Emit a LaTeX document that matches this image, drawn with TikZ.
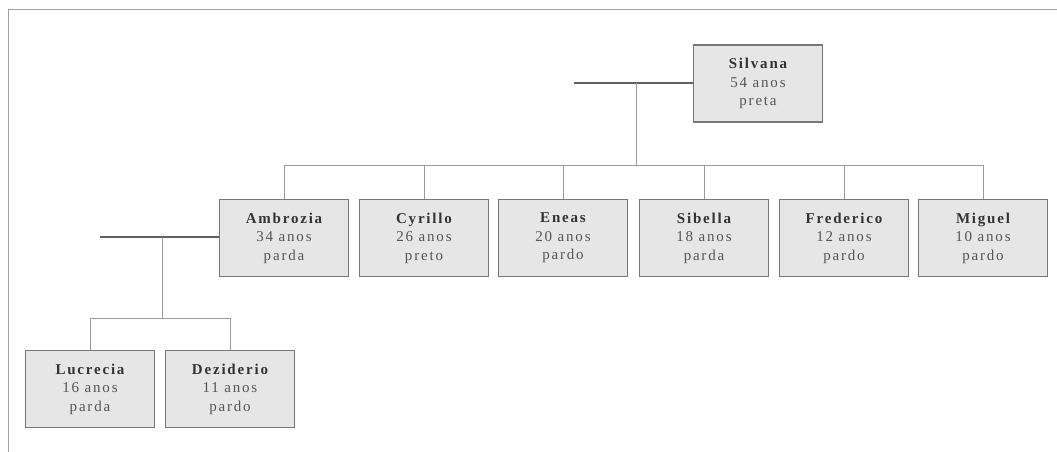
\documentclass[tikz,border=0pt]{standalone}
\usepackage{fontspec}
\setmainfont{Liberation Serif}[LetterSpace=12]
\definecolor{boxfill}{HTML}{E6E6E6}
\definecolor{boxdraw}{HTML}{777777}
\definecolor{linkc}{HTML}{9A9A9A}
\definecolor{spousec}{HTML}{606060}
\definecolor{namec}{HTML}{333333}
\definecolor{infoc}{HTML}{555555}
\definecolor{framec}{HTML}{A0A0A0}
\tikzset{
  person/.style={draw=boxdraw, fill=boxfill, line width=1.7pt, minimum width=129pt, minimum height=77pt,
    inner sep=0pt, align=center, text=infoc, font=\fontsize{15}{18.5}\selectfont},
  link/.style={draw=linkc, line width=1pt},
  spouse/.style={draw=spousec, line width=1.3pt},
}
\newcommand{\pname}[1]{\textbf{\color{namec}#1}}
\begin{document}
\begin{tikzpicture}[x=1pt,y=-1pt]
\useasboundingbox (0,0) rectangle (1057,452);
% frame
\draw[framec, line width=1pt] (8,452) -- (8,10) -- (1057,10);
% nodes
\node[person] (silvana) at (758,83.5) {\pname{Silvana}\\54 anos\\preta};
\node[person] (ambrozia) at (284,238) {\pname{Ambrozia}\\34 anos\\parda};
\node[person] (cyrillo) at (424,238) {\pname{Cyrillo}\\26 anos\\preto};
\node[person] (eneas) at (563,238) {\pname{Eneas}\\20 anos\\pardo};
\node[person] (sibella) at (704,238) {\pname{Sibella}\\18 anos\\parda};
\node[person] (frederico) at (844,238) {\pname{Frederico}\\12 anos\\pardo};
\node[person] (miguel) at (983,238) {\pname{Miguel}\\10 anos\\pardo};
\node[person] (lucrecia) at (90,389) {\pname{Lucrecia}\\16 anos\\parda};
\node[person] (dezidério) at (230,389) {\pname{Deziderio}\\11 anos\\pardo};
% coordinates
\coordinate (s1) at (574,83);
\coordinate (s2) at (636,83);
\coordinate (s3) at (636,165);
\coordinate (a1) at (100,237);
\coordinate (a2) at (162,237);
\coordinate (a3) at (162,318);
% spouse lines
\draw[spouse] (silvana.west |- s1) -- (s1);
\draw[spouse] (ambrozia.west |- a1) -- (a1);
% descendants of Silvana
\draw[link] (s2) -- (s3);
\draw[link] (ambrozia.north) -- (ambrozia.north |- s3) -- (miguel.north |- s3) -- (miguel.north);
\foreach \n in {cyrillo,eneas,sibella,frederico}
  \draw[link] (\n.north) -- (\n.north |- s3);
% descendants of Ambrozia
\draw[link] (a2) -- (a3);
\draw[link] (lucrecia.north) -- (lucrecia.north |- a3) -- (dezidério.north |- a3) -- (dezidério.north);
\end{tikzpicture}
\end{document}
